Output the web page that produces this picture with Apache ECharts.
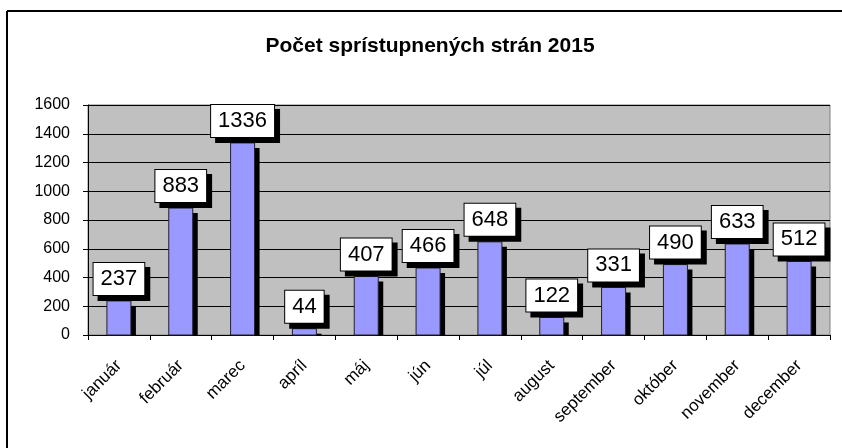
<!DOCTYPE html>
<html>
<head>
<meta charset="utf-8">
<script src="https://cdn.jsdelivr.net/npm/echarts@6/dist/echarts.min.js"></script>
<style>
html,body{margin:0;padding:0;background:#fff;}
#chart{width:842px;height:448px;}
</style>
</head>
<body>
<div id="chart"></div>
<script>
const titleText = 'Počet sprístupnených strán 2015';
const months = ['január','február','marec','apríl','máj','jún','júl','august','september','október','november','december'];
const pageViews = [237, 883, 1336, 44, 407, 466, 648, 122, 331, 490, 633, 512];
const yTicks = [0, 200, 400, 600, 800, 1000, 1200, 1400, 1600];

const chart = echarts.init(document.getElementById('chart'), null, {renderer: 'canvas'});
const font = 'Arial, "Liberation Sans", sans-serif';
const BAR_W = 24, SH = 5;

chart.setOption({
  animation: false,
  backgroundColor: '#ffffff',
  graphic: [
    {type: 'line', shape: {x1: 7, y1: 11, x2: 842, y2: 11}, style: {stroke: '#000', lineWidth: 2}},
    {type: 'line', shape: {x1: 7, y1: 11, x2: 7, y2: 448}, style: {stroke: '#000', lineWidth: 2}},
    {type: 'text', x: 430, y: 46, style: {text: titleText, font: 'bold 21px ' + font, fill: '#000', textAlign: 'center', textVerticalAlign: 'middle'}}
  ],
  grid: {
    left: 88, top: 105, right: 12, bottom: 113,
    show: true, backgroundColor: '#c0c0c0', borderColor: '#808080', borderWidth: 1
  },
  xAxis: {
    type: 'category',
    data: months,
    axisLine: {show: true, lineStyle: {color: '#000', width: 1}},
    axisTick: {show: true, length: 5, alignWithLabel: false, lineStyle: {color: '#000'}},
    axisLabel: {rotate: 45, margin: 28, color: '#000', fontSize: 17, fontFamily: font, interval: 0}
  },
  yAxis: {
    type: 'value',
    min: yTicks[0], max: yTicks[yTicks.length - 1], interval: 200,
    axisLine: {show: true, lineStyle: {color: '#000', width: 1}},
    axisTick: {show: true, length: 5, lineStyle: {color: '#000'}},
    axisLabel: {color: '#000', fontSize: 16, fontFamily: font, margin: 18, formatter: v => String(v)},
    splitLine: {show: true, lineStyle: {color: '#000', width: 1}}
  },
  series: [{
    type: 'custom',
    data: pageViews.map((v, i) => [i, v]),
    renderItem: function (params, api) {
      const top = api.coord([api.value(0), api.value(1)]);
      const base = api.coord([api.value(0), 0]);
      const x = top[0] - BAR_W / 2;
      const h = base[1] - top[1];
      return {
        type: 'group',
        children: [
          {type: 'rect', shape: {x: x + SH, y: top[1] + SH, width: BAR_W, height: Math.max(0, h - SH)}, style: {fill: '#000'}},
          {type: 'rect', shape: {x: x, y: top[1], width: BAR_W, height: h}, style: {fill: '#9999ff', stroke: '#222', lineWidth: 1}}
        ]
      };
    },
    z: 2
  }, {
    type: 'bar',
    data: pageViews,
    barWidth: BAR_W,
    itemStyle: {color: 'rgba(0,0,0,0)'},
    z: 3,
    label: {
      show: true, position: 'top', distance: 6,
      color: '#000', fontSize: 22, lineHeight: 22, fontFamily: font,
      backgroundColor: '#fff', borderColor: '#000', borderWidth: 1,
      padding: [5, 7, 5, 7],
      shadowColor: '#000', shadowBlur: 0, shadowOffsetX: 5, shadowOffsetY: 5
    }
  }]
});
</script>
</body>
</html>
